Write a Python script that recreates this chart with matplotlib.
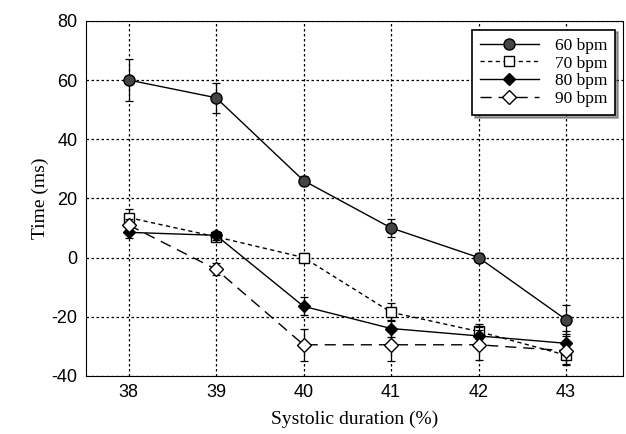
import numpy as np
import matplotlib
matplotlib.use("Agg")
import matplotlib.pyplot as plt

plt.rcParams["axes.unicode_minus"] = False

duration = [38, 39, 40, 41, 42, 43]

bpm60 = [60, 54, 26, 10, 0, -21]
err60 = [7, 5, 1.5, 3, 1.5, 5]
bpm70 = [13.5, 7, 0, -18.5, -25, -33]
err70 = [3, 1.5, 1.5, 3, 2.5, 3]
bpm80 = [8.5, 7.5, -16.5, -24, -26.5, -29]
err80 = [2, 1.5, 3, 3, 3, 4]
bpm90 = [11, -4, -29.5, -29.5, -29.5, -31.5]
err90 = [2, 2, 5.5, 5.5, 5, 5]

labels = ["60 bpm", "70 bpm", "80 bpm", "90 bpm"]

fig = plt.figure(figsize=(6.26, 4.34), dpi=100)
ax = fig.add_axes([0.137, 0.134, 0.858, 0.818])

styles = [
    dict(ls="-", marker="o", ms=8, mfc="#444444"),
    dict(ls=(0, (3, 2.5)), marker="s", ms=7, mfc="white"),
    dict(ls="-", marker="D", ms=6, mfc="black"),
    dict(ls=(0, (8, 5)), marker="D", ms=7, mfc="white"),
]
series = [(bpm60, err60), (bpm70, err70), (bpm80, err80), (bpm90, err90)]

handles = []
for (y, e), st, lab in zip(series, styles, labels):
    ax.errorbar(duration, y, yerr=e, fmt="none", ecolor="black", elinewidth=0.9,
                capsize=3, capthick=0.9)
    h, = ax.plot(duration, y, color="black", lw=1.0, mec="black", label=lab, **st)
    handles.append(h)

ax.set_xlim(37.51, 43.65)
ax.set_ylim(-40, 80)
ax.set_xticks(duration)
ax.set_yticks(np.arange(-40, 81, 20))
ax.grid(True, color="black", ls=(0, (2, 2)), lw=0.9)
ax.tick_params(direction="in", length=0, labelsize=13, pad=6)
for t in ax.get_xticklabels() + ax.get_yticklabels():
    t.set_family("Liberation Sans")

ax.set_xlabel("Systolic duration (%)", family="Liberation Serif", fontsize=14, labelpad=7)
ax.set_ylabel("Time (ms)", family="Liberation Serif", fontsize=14, labelpad=2)

leg = ax.legend(handles=handles, loc="upper right", bbox_to_anchor=(0.985, 0.975),
                borderaxespad=0, fancybox=False, shadow=True, framealpha=1,
                edgecolor="black", prop={"family": "Liberation Serif", "size": 12.5},
                handlelength=3.4, labelspacing=0.1, borderpad=0.45, handletextpad=0.9)
leg.get_frame().set_linewidth(1.2)

plt.savefig("out.png", dpi=100)
